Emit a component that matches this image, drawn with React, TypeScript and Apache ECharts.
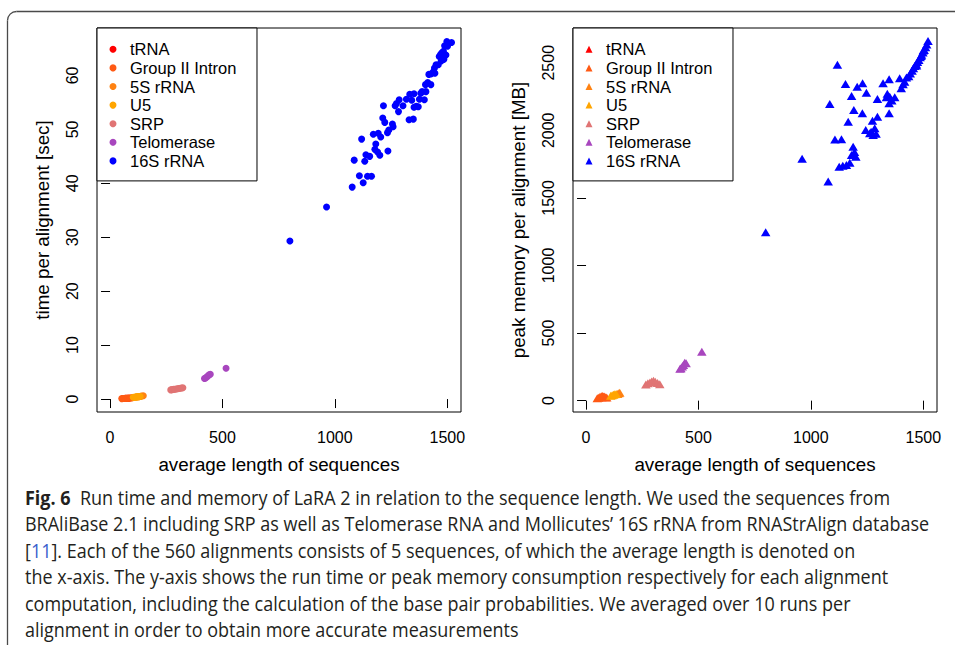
import React, { useEffect, useRef } from "react";
import * as echarts from "echarts";

// ---------- data ----------
const SERIES_NAMES = ["tRNA", "Group II Intron", "5S rRNA", "U5", "SRP", "Telomerase", "16S rRNA"];
const SERIES_COLORS = ["#FF0000", "#FF5A14", "#FF8212", "#FFA500", "#E07474", "#A846BE", "#0000FF"];

const X_TICKS = [0, 500, 1000, 1500];
const TIME_TICKS = [0, 10, 20, 30, 40, 50, 60];
const MEM_TICKS = [0, 500, 1000, 1500, 2000, 2500];

// time per alignment [sec] vs average length
const timeTRNA = [[68, 0.12], [72, 0.13], [76, 0.14], [80, 0.15], [84, 0.16]];
const timeGroupII = [[52, 0.08], [57, 0.1], [62, 0.1], [67, 0.12], [72, 0.14], [77, 0.15], [82, 0.17], [88, 0.2], [94, 0.22], [99, 0.25]];
const time5S = [[112, 0.35], [120, 0.4], [128, 0.45], [135, 0.5], [141, 0.57], [148, 0.62]];
const timeU5 = [[103, 0.32], [108, 0.35], [113, 0.38], [118, 0.41], [123, 0.43], [128, 0.45], [134, 0.48]];
const timeSRP = [[270, 1.7], [276, 1.75], [282, 1.8], [288, 1.82], [294, 1.86], [300, 1.9], [306, 1.95], [312, 2.0], [318, 2.05], [324, 2.1]];
const timeTelo = [[420, 3.8], [425, 3.9], [430, 4.1], [436, 4.3], [441, 4.5], [446, 4.6], [516, 5.7]];
const time16S = [
  [800, 29.3], [963, 35.6], [1077, 39.3], [1126, 40.1], [1109, 41.4], [1145, 41.3], [1163, 41.3],
  [1086, 44.3], [1133, 44.1], [1138, 45.3], [1155, 45.0], [1119, 48.2], [1171, 49.1], [1193, 49.3],
  [1182, 47.3], [1204, 48.6], [1178, 46.3], [1190, 45.8], [1200, 45.2], [1236, 46.0], [1216, 54.4],
  [1213, 52.1], [1222, 51.3], [1234, 49.4], [1240, 49.9], [1259, 50.5], [1256, 51.0], [1268, 54.4],
  [1274, 54.8], [1286, 55.5], [1283, 53.3], [1303, 54.4], [1330, 51.8], [1318, 55.6], [1333, 56.5],
  [1342, 55.4], [1352, 54.1], [1362, 54.3], [1376, 55.6], [1382, 56.7], [1388, 57.0], [1403, 58.3],
  [1413, 58.7], [1418, 60.2], [1429, 60.3], [1438, 60.7], [1443, 61.4], [1450, 62.0], [1464, 63.5],
  [1470, 63.9], [1476, 64.2], [1483, 64.5], [1483, 63.0], [1473, 62.7], [1488, 65.5], [1498, 66.3],
  [1519, 66.1], [1501, 65.4], [1494, 63.8], [1485, 63.0], [1460, 62.0], [1445, 60.4], [1427, 58.3],
  [1405, 57.0], [1398, 55.5], [1371, 54.2], [1352, 56.6], [1349, 51.9]
];

// peak memory per alignment [MB] vs average length
const memTRNA = [[70, 25], [75, 27], [80, 28]];
const memGroupII = [[50, 18], [56, 22], [62, 28], [68, 32], [74, 35], [80, 30], [86, 26], [92, 24]];
const mem5S = [[140, 50], [146, 55], [150, 58]];
const memU5 = [[110, 36], [116, 40], [122, 44], [128, 47], [134, 50]];
const memSRP = [[266, 120], [275, 128], [284, 135], [292, 142], [300, 148], [308, 140], [318, 130], [328, 122]];
const memTelo = [[418, 236], [422, 240], [428, 252], [433, 264], [439, 280], [445, 276], [515, 362]];
const mem16S = [
  [799, 1245], [961, 1790], [1077, 1622], [1084, 2194], [1118, 2485], [1107, 1932], [1136, 1934],
  [1126, 1731], [1142, 1738], [1158, 1743], [1173, 1760], [1188, 1879], [1181, 1817], [1200, 1805],
  [1194, 1840], [1166, 2064], [1154, 2342], [1206, 2323], [1230, 2348], [1181, 2254], [1247, 2278],
  [1191, 2150], [1229, 2126], [1274, 2071], [1296, 2101], [1244, 2002], [1262, 1978], [1284, 2015],
  [1277, 1965], [1268, 1990], [1290, 1975], [1321, 2348], [1348, 2377], [1296, 2231], [1336, 2244],
  [1351, 2249], [1373, 2244], [1348, 2200], [1360, 2220], [1340, 2270], [1348, 2126], [1402, 2311],
  [1417, 2360], [1395, 2385], [1410, 2340], [1425, 2390], [1435, 2400], [1442, 2420], [1450, 2440],
  [1456, 2460], [1462, 2475], [1468, 2490], [1474, 2505], [1480, 2520], [1486, 2540], [1492, 2560],
  [1498, 2575], [1504, 2595], [1510, 2615], [1515, 2635], [1521, 2660], [1500, 2590], [1490, 2550],
  [1470, 2480]
];

const TIME_DATA = [timeTRNA, timeGroupII, time5S, timeU5, timeSRP, timeTelo, time16S];
const MEM_DATA = [memTRNA, memGroupII, mem5S, memU5, memSRP, memTelo, mem16S];

const CAPTION_LINES = [
  "{b|Fig. 6}  Run time and memory of LaRA 2 in relation to the sequence length. We used the sequences from",
  "BRAliBase 2.1 including SRP as well as Telomerase RNA and Mollicutes\u2019 16S rRNA from RNAStrAlign database",
  "[{l|11}]. Each of the 560 alignments consists of 5 sequences, of which the average length is denoted on",
  "the x-axis. The y-axis shows the run time or peak memory consumption respectively for each alignment",
  "computation, including the calculation of the base pair probabilities. We averaged over 10 runs per",
  "alignment in order to obtain more accurate measurements"
];

// ---------- styling ----------
const RFONT = "'Liberation Sans', Arial, Helvetica, sans-serif";
const CFONT = "'Open Sans', 'Noto Sans', sans-serif";
const CAP_SIZE = 19.5;

function measure(text: string, font: string): number {
  const c = document.createElement("canvas");
  const ctx = c.getContext("2d");
  if (!ctx) return 1000;
  ctx.font = font;
  return ctx.measureText(text).width;
}

const plain = (v: number) => String(v);

export default function App() {
  const ref = useRef<HTMLDivElement>(null);

  useEffect(() => {
    if (!ref.current) return;
    const chart = echarts.init(ref.current, null, { renderer: "svg" });

    const capW = measure(CAPTION_LINES[1], `${CAP_SIZE}px ${CFONT}`);
    const capScale = 905 / capW;

    const grids = [
      { left: 97, top: 28, width: 364, height: 384 },
      { left: 573, top: 28, width: 364, height: 384 }
    ];

    const xAxisCommon = (idx: number) => ({
      type: "value",
      gridIndex: idx,
      min: -58,
      max: 1561,
      name: "average length of sequences",
      nameLocation: "middle",
      nameGap: 43,
      nameTextStyle: { fontFamily: RFONT, fontSize: 18.8, color: "#000" },
      axisLine: { show: false },
      splitLine: { show: false },
      axisTick: { show: true, customValues: X_TICKS, length: 9, lineStyle: { color: "#000", width: 1 } },
      axisLabel: { customValues: X_TICKS, formatter: plain, margin: 17, fontFamily: RFONT, fontSize: 16, color: "#000" }
    });

    const yAxisCommon = (idx: number, min: number, max: number, ticks: number[], name: string) => ({
      type: "value",
      gridIndex: idx,
      min,
      max,
      name,
      nameLocation: "middle",
      nameGap: 45,
      nameTextStyle: { fontFamily: RFONT, fontSize: 18.8, color: "#000" },
      axisLine: { show: false },
      splitLine: { show: false },
      axisTick: { show: true, customValues: ticks, length: 9, lineStyle: { color: "#000", width: 1 } },
      axisLabel: { customValues: ticks, formatter: plain, margin: 17, rotate: 90, fontFamily: RFONT, fontSize: 16, color: "#000" }
    });

    const series: any[] = [];
    SERIES_NAMES.forEach((name, i) => {
      series.push({
        type: "scatter",
        name,
        xAxisIndex: 0,
        yAxisIndex: 0,
        symbol: "circle",
        symbolSize: 7,
        itemStyle: { color: SERIES_COLORS[i], opacity: 1 },
        emphasis: { disabled: true },
        data: TIME_DATA[i]
      });
    });
    SERIES_NAMES.forEach((name, i) => {
      series.push({
        type: "scatter",
        name,
        xAxisIndex: 1,
        yAxisIndex: 1,
        symbol: "triangle",
        symbolSize: [9.5, 8],
        itemStyle: { color: SERIES_COLORS[i], opacity: 1 },
        emphasis: { disabled: true },
        data: MEM_DATA[i]
      });
    });

    const legendCommon = (left: number, icon: string) => ({
      show: true,
      orient: "vertical",
      left,
      top: 28,
      padding: [12, 20.6, 10.7, 12.5],
      itemGap: 0,
      itemWidth: 7,
      itemHeight: 7,
      symbolKeepAspect: true,
      borderColor: "#000",
      borderWidth: 1,
      backgroundColor: "#fff",
      selectedMode: false,
      formatter: (name: string) => "{s|}" + name,
      textStyle: {
        fontFamily: RFONT,
        fontSize: 16.5,
        color: "#000",
        lineHeight: 18.6,
        rich: { s: { width: 8.5, fontFamily: RFONT, fontSize: 16.5, lineHeight: 18.6 } }
      },
      itemStyle: { opacity: 1 },
      data: SERIES_NAMES.map((n) => ({ name: n, icon }))
    });

    const captionChildren = CAPTION_LINES.map((t, i) => ({
      type: "text",
      x: 0,
      y: 497 + i * 26.5,
      style: {
        text: t,
        fontFamily: CFONT,
        fontSize: CAP_SIZE,
        fill: "#231F20",
        verticalAlign: "middle",
        align: "left",
        rich: {
          b: { fontFamily: CFONT, fontSize: CAP_SIZE, fontWeight: "bold", fill: "#231F20" },
          l: { fontFamily: CFONT, fontSize: CAP_SIZE, fill: "#3A5FCD" }
        }
      }
    }));

    const option: any = {
      animation: false,
      backgroundColor: "#fff",
      grid: grids.map((g) => ({ ...g, show: true, borderColor: "#000", borderWidth: 1, backgroundColor: "transparent" })),
      xAxis: [xAxisCommon(0), xAxisCommon(1)],
      yAxis: [
        yAxisCommon(0, -2.4, 68.8, TIME_TICKS, "time per alignment [sec]"),
        yAxisCommon(1, -84, 2757, MEM_TICKS, "peak memory per alignment [MB]")
      ],
      legend: [legendCommon(97, "circle"), legendCommon(573, "triangle")],
      series,
      graphic: [
        {
          type: "polyline",
          shape: { points: [[7.5, 645], [7.5, 20.5]] },
          style: { stroke: "#4a4a4a", lineWidth: 1.3, fill: null }
        },
        {
          type: "arc",
          shape: { cx: 16.5, cy: 20.5, r: 9, startAngle: Math.PI, endAngle: Math.PI * 1.5, clockwise: true },
          style: { stroke: "#4a4a4a", lineWidth: 1.3, fill: null }
        },
        {
          type: "polyline",
          shape: { points: [[16.5, 11.5], [960, 11.5]] },
          style: { stroke: "#4a4a4a", lineWidth: 1.3, fill: null }
        },
        {
          type: "group",
          x: 25,
          y: 0,
          scaleX: capScale,
          children: captionChildren
        }
      ]
    };

    chart.setOption(option);
    return () => chart.dispose();
  }, []);

  return (
    <div
      ref={ref}
      style={{ position: "absolute", left: 0, top: 0, width: 955, height: 649, background: "#fff" }}
    />
  );
}
